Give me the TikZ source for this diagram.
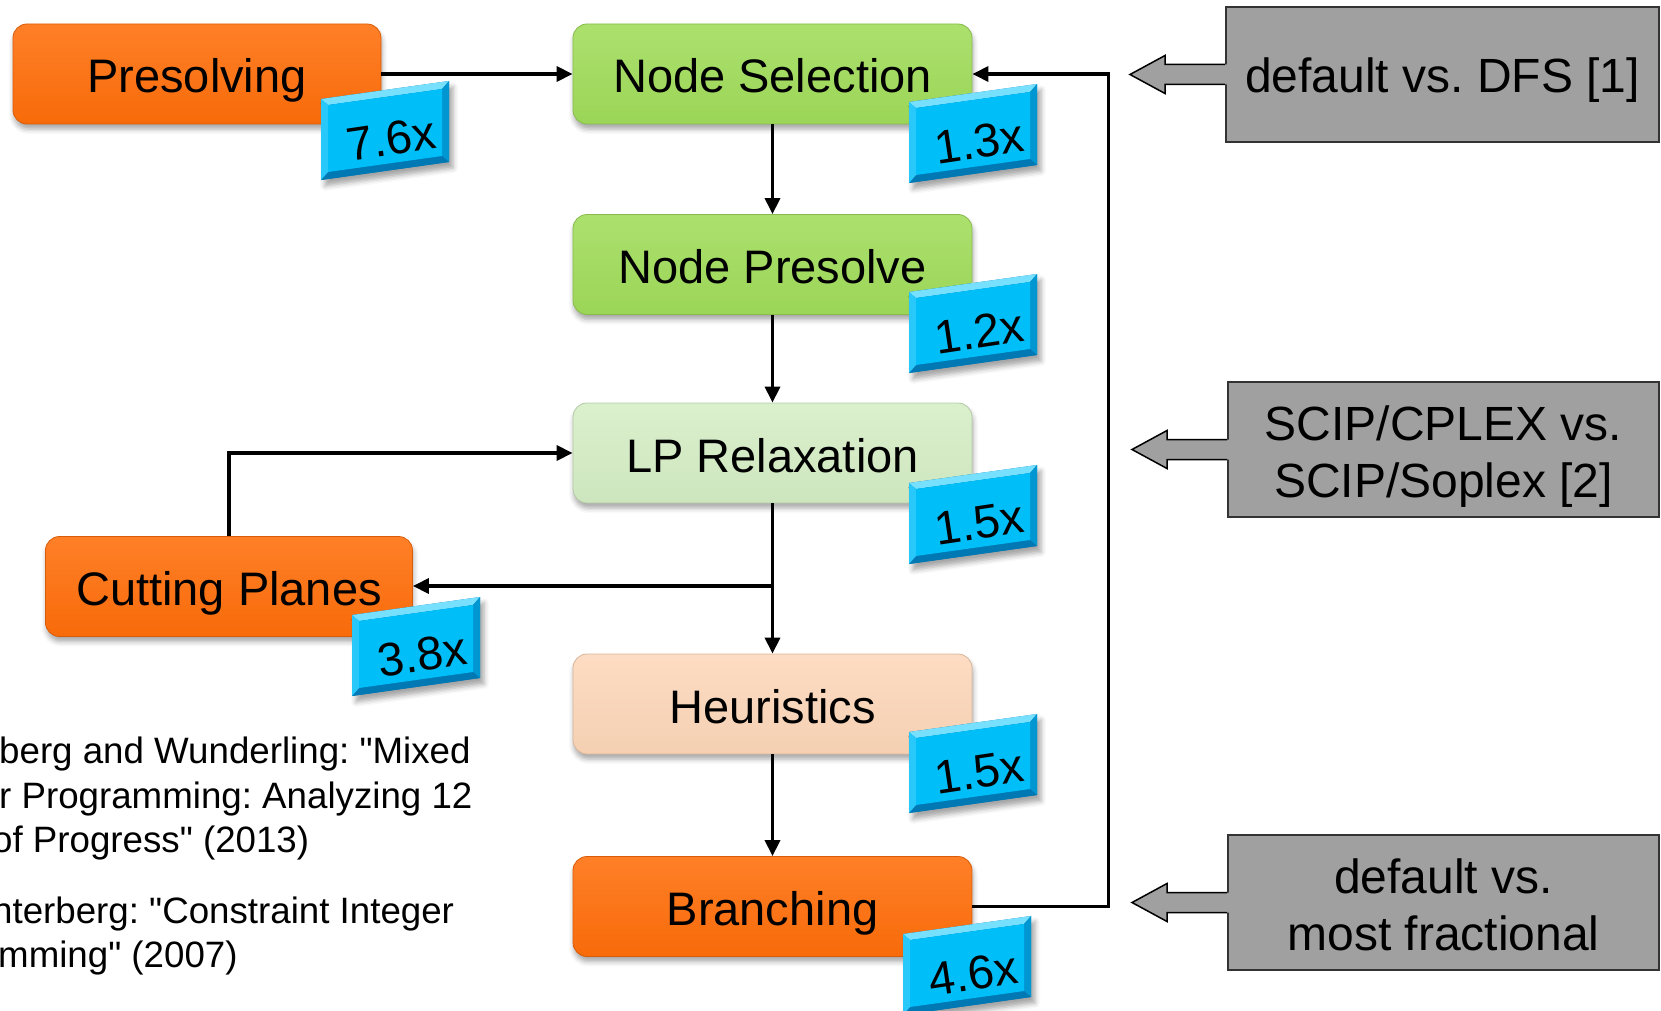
\documentclass[tikz,border=0pt]{standalone}
\usepackage{fontspec}
\setmainfont{Liberation Sans}[Ligatures=TeXOff]
\frenchspacing
\usetikzlibrary{arrows.meta,shadows.blur,calc}

\definecolor{orangeMain}{RGB}{255,110,10}
\definecolor{greenMain}{RGB}{160,220,90}
\definecolor{greenPale}{RGB}{212,237,196}
\definecolor{peach}{RGB}{252,214,184}
\definecolor{panelGray}{RGB}{160,160,160}
\definecolor{badgeFace}{RGB}{0,190,248}
\definecolor{badgeLight}{RGB}{120,224,255}
\definecolor{badgeLeft}{RGB}{40,200,250}
\definecolor{badgeRight}{RGB}{0,150,210}
\definecolor{badgeBottom}{RGB}{0,120,180}

\tikzset{
  stage/.style={rounded corners=14pt, minimum width=399pt, minimum height=100pt,
    inner sep=0pt, font=\fontsize{47}{56}\selectfont, text height=38pt, text depth=0pt,
    line width=0.8pt,
    blur shadow={shadow xshift=1pt, shadow yshift=-5pt, shadow blur radius=5pt, shadow opacity=35}},
  orangestage/.style={stage, draw=orangeMain!85!black, top color=orangeMain!88!white, bottom color=orangeMain!97!black},
  greenstage/.style={stage, draw=greenMain!85!black, top color=greenMain!88!white, bottom color=greenMain!97!black},
  palestage/.style={stage, draw=greenPale!85!black, top color=greenPale!85!white, bottom color=greenPale!97!black},
  peachstage/.style={stage, draw=peach!85!black, top color=peach!85!white, bottom color=peach!97!black},
  conn/.style={line width=3.4pt, -{Triangle[length=16pt,width=15pt]}},
  panel/.style={draw=black!80, line width=2pt, fill=panelGray, inner sep=0pt,
    font=\fontsize{48}{57.5}\selectfont, align=center, text height=36pt, text depth=0pt},
  twolines/.style={text height=96pt, text depth=0pt},
  badgetext/.style={inner sep=0pt, rotate=8.5, font=\fontsize{47}{50}\selectfont,
    text height=33.6pt, text depth=0pt},
  reftext/.style={anchor=base west, inner sep=0pt, font=\fontsize{36.7}{44}\selectfont},
}

% bevelled speed-up tag: #1 name, (#2,#3) top-left corner, #4 label
\newcommand\speedup[4]{%
  \begin{scope}[shift={(#2,#3)}]
    \fill[badgeBottom, blur shadow={shadow xshift=4pt, shadow yshift=-6pt, shadow blur radius=5pt, shadow opacity=35}]
      (0,0) -- (128,-18) -- (128,63) -- (0,81) -- cycle;
    \fill[badgeLight]  (0,0) -- (128,-18) -- (121,-10) -- (7,6) -- cycle;
    \fill[badgeRight]  (128,-18) -- (128,63) -- (121,57) -- (121,-10) -- cycle;
    \fill[badgeBottom] (128,63) -- (0,81) -- (7,73) -- (121,57) -- cycle;
    \fill[badgeLeft]   (0,81) -- (0,0) -- (7,6) -- (7,73) -- cycle;
    \fill[badgeFace]   (7,6) -- (121,-10) -- (121,57) -- (7,73) -- cycle;
    \node[badgetext] (#1) at (70,39) {#4};
  \end{scope}}

% block arrow pointing left out of a grey panel
\newcommand\pointer[1]{%
  \fill[panelGray] ($(#1.west)+(2.5,-10)$) -- ++(-62.5,0) -- ++(0,-9) -- ++(-35,19)
    -- ++(35,19) -- ++(0,-9) -- ++(62.5,0) -- cycle;
  \draw[line width=1.5pt, line join=miter] ($(#1.west)+(0,-10)$) -- ++(-60,0) -- ++(0,-9)
    -- ++(-35,19) -- ++(35,19) -- ++(0,-9) -- ++(60,0);}

\begin{document}
\begin{tikzpicture}[x=1pt, y=-1pt]
\useasboundingbox (0,0) rectangle (1661,1011);

% solver stages
\node[orangestage, minimum width=368pt] (pres) at (197,74) {Presolving};
\node[greenstage]  (nsel) at (772.5,74) {Node Selection};
\node[greenstage]  (npre) at (772.5,264.5) {Node Presolve};
\node[palestage]   (lp)   at (772.5,453) {LP Relaxation};
\node[orangestage, minimum width=367pt] (cut) at (229,586.5) {Cutting Planes};
\node[peachstage]  (heur) at (772.5,704) {Heuristics};
\node[orangestage] (branch) at (772.5,906.5) {Branching};

% flow
\draw[conn] (pres) -- (nsel);
\draw[conn] (nsel) -- (npre);
\draw[conn] (npre) -- (lp);
\draw[conn] (lp) -- (heur);
\coordinate (split) at (772.5,586);
\draw[conn] (split) -- (split -| cut.east);
\draw[conn] (cut.north) |- (lp.west);
\draw[conn] (heur) -- (branch);
\draw[conn] (branch.east) -- ++(136,0) coordinate (loop) |- (nsel.east);

% comparison panels
\node[panel, minimum width=433pt, minimum height=135pt] (p1) at (1442.5,74.5) {default vs. DFS [1]};
\node[panel, twolines, minimum width=431pt, minimum height=135pt] (p2) at (1443.5,449.5) {SCIP/CPLEX vs.\\SCIP/Soplex [2]};
\node[panel, twolines, minimum width=431pt, minimum height=135pt] (p3) at (1443.5,902.5) {default vs.\\most fractional};
\pointer{p1}
\pointer{p2}
\pointer{p3}

% speed-up tags
\speedup{s1}{321}{99}{7.6x}
\speedup{s2}{909}{102}{1.3x}
\speedup{s3}{909}{292}{1.2x}
\speedup{s4}{909}{483}{1.5x}
\speedup{s5}{352}{615}{3.8x}
\speedup{s6}{909}{732}{1.5x}
\speedup{s7}{903}{934}{4.6x}

% references
\node[reftext] (r1) at (-1,763) {berg and Wunderling: "Mixed};
\node[reftext] (r2) at (-1,808) {r Programming: Analyzing 12};
\node[reftext] (r3) at (-8,852.5) {of Progress" (2013)};
\node[reftext] (r4) at (-8,923) {nterberg: "Constraint Integer};
\node[reftext] (r5) at (-2,967) {mming" (2007)};
\end{tikzpicture}
\end{document}
